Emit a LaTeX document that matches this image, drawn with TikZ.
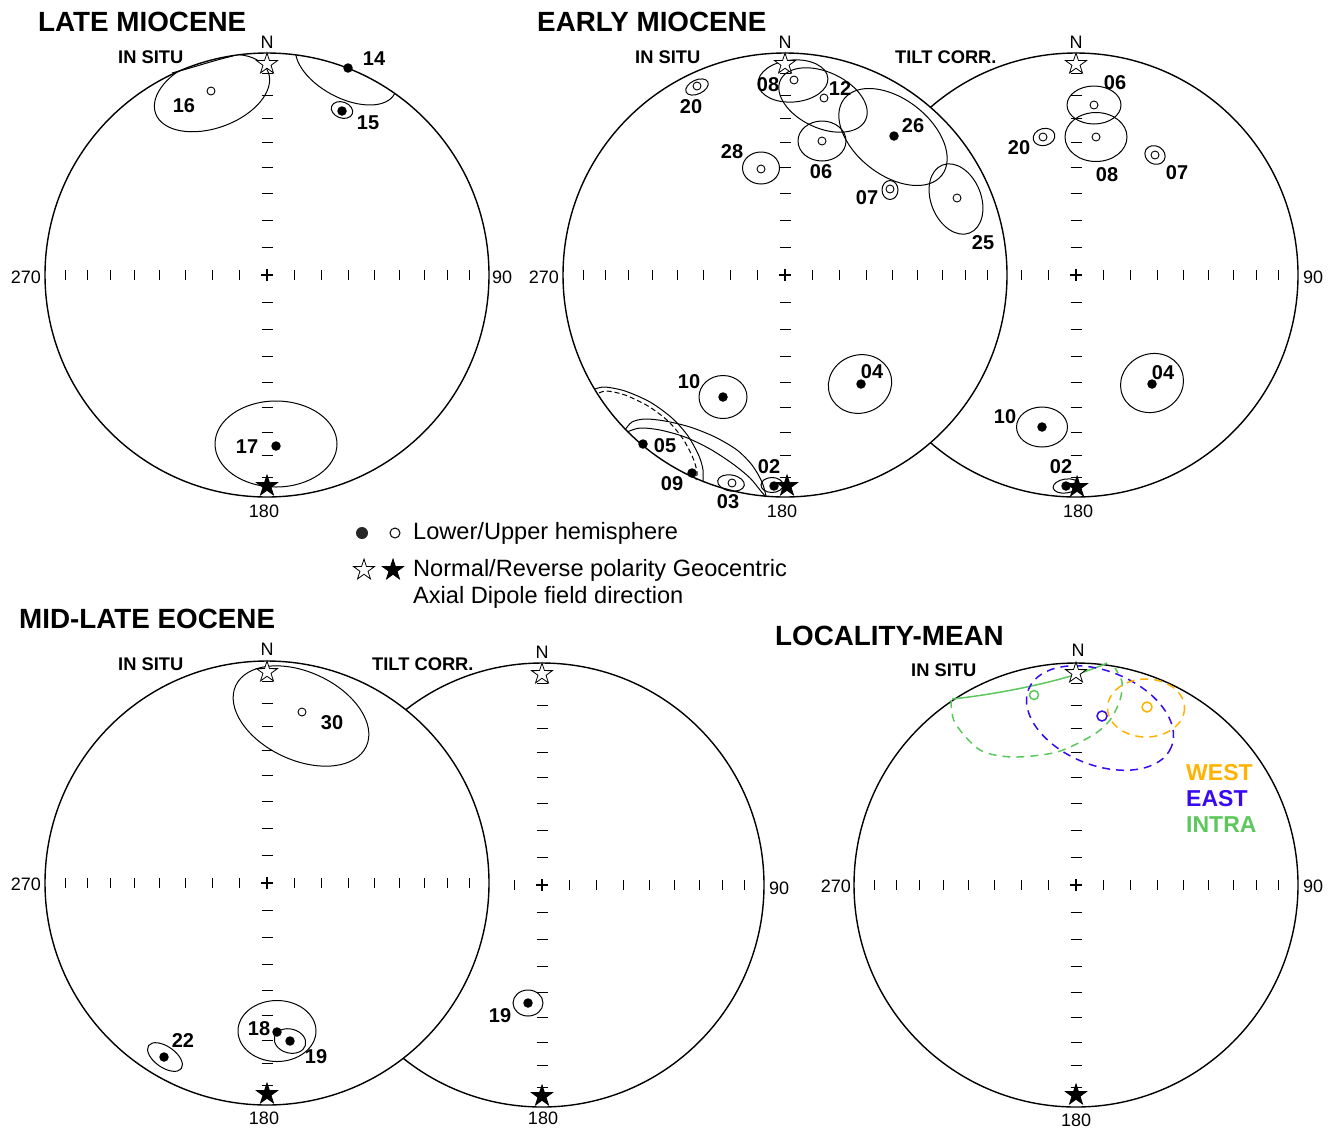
\documentclass[tikz,border=0pt]{standalone}
\usepackage{fontspec}
\setmainfont{Liberation Sans}
\usetikzlibrary{shapes.geometric}
\definecolor{cwest}{RGB}{255,178,0}
\definecolor{ceast}{RGB}{55,10,240}
\definecolor{cintra}{RGB}{92,200,92}
\tikzset{
  prim/.style={line width=1.4pt},
  tk/.style={line width=1pt},
  elp/.style={line width=1pt},
  dsh/.style={line width=1.5pt, dash pattern=on 8pt off 6pt},
  lab/.style={font=\bfseries\fontsize{20}{21}\selectfont, inner sep=0pt},
  ax/.style={font=\fontsize{18}{20}\selectfont, inner sep=0pt},
  ttl/.style={font=\bfseries\fontsize{27.8}{30}\selectfont, anchor=west, inner sep=0pt},
  sub/.style={font=\bfseries\fontsize{18.3}{20}\selectfont, anchor=west, inner sep=0pt},
  leg/.style={font=\fontsize{23.6}{26}\selectfont, anchor=west, inner sep=0pt},
  dotL/.style={circle, fill=black, inner sep=0pt, minimum size=9.5pt},
  dotU/.style={circle, draw, fill=white, inner sep=0pt, minimum size=8pt, line width=0.9pt},
  starN/.style={star, star points=5, star point ratio=2.6, draw, fill=white, inner sep=0pt, minimum size=22pt, line width=0.8pt},
  starR/.style={starN, fill=black},
}
\newcommand{\snet}[2]{%
  \draw[prim] (#1,#2) circle (222);
  \foreach \d in {27.4,54.5,81.3,107.4,132.7,157,180,202} {
    \draw[tk] (#1-5.5,#2-\d) -- (#1+5.5,#2-\d);
    \draw[tk] (#1-5.5,#2+\d) -- (#1+5.5,#2+\d);
    \draw[tk] (#1-\d,#2-5) -- (#1-\d,#2+5);
    \draw[tk] (#1+\d,#2-5) -- (#1+\d,#2+5);
  }
  \draw[line width=1.4pt] (#1-6,#2) -- (#1+6,#2) (#1,#2-6) -- (#1,#2+6);
}
\newcommand{\elps}[6][]{\draw[elp,#1,shift={(#2,#3)},rotate=#6] (0,0) ellipse (#4 and #5);}
\begin{document}
\begin{tikzpicture}[x=1pt,y=-1pt]
\useasboundingbox (0,0) rectangle (1337,1128);

% ===== LATE MIOCENE =====
\snet{267}{275}
\begin{scope}
  \clip (267,275) circle (222);
  \elps{212}{93}{60}{35}{20}
  \elps{346}{68}{55}{30}{-28}
\end{scope}
\draw[elp] (172,73) .. controls (195,67) and (215,60) .. (233,56);
\elps{342}{110}{11}{8}{-20}
\elps{276}{444}{61}{43}{0}
\node[dotU] (a16) at (211,91) {};
\node[dotL] (a14) at (348,68) {};
\node[dotL] (a15) at (342,111) {};
\node[dotL] (a17) at (276,446) {};
\node[starN] (aN) at (267,64) {};
\node[starR] (aS) at (267,486) {};
\node[lab] (la16) at (184,106) {16};
\node[lab] (la14) at (374,59) {14};
\node[lab] (la15) at (368,123) {15};
\node[lab] (la17) at (247,447) {17};

% ===== EARLY MIOCENE TILT CORR =====
\snet{1076}{275}
\elps{1094}{105}{27}{19}{0}
\elps{1096}{137}{31}{24.5}{0}
\elps{1044}{137}{11}{8.5}{15}
\elps{1155}{155}{10.5}{9}{-30}
\elps{1152}{383}{32}{29}{25}
\elps{1042}{427}{25.5}{20}{0}
\elps{1066}{486}{13}{7}{8}
\node[dotU] (c06) at (1094,105) {};
\node[dotU] (c08) at (1096,137) {};
\node[dotU] (c20) at (1043,137) {};
\node[dotU] (c07) at (1155,155) {};
\node[dotL] (c04) at (1152,384) {};
\node[dotL] (c10) at (1042,427) {};
\node[dotL] (c02) at (1066,486) {};
\node[starN] (cN) at (1076,64) {};
\node[starR] (cS) at (1077,487) {};
\node[lab] (lc06) at (1115,83) {06};
\node[lab] (lc08) at (1107,175) {08};
\node[lab] (lc20) at (1019,148) {20};
\node[lab] (lc07) at (1177,173) {07};
\node[lab] (lc04) at (1163,373) {04};
\node[lab] (lc10) at (1005,417) {10};
\node[lab] (lc02) at (1061,467) {02};

% ===== EARLY MIOCENE IN SITU =====
\fill[white] (785,275) circle (222);
\snet{785}{275}
\elps{697}{87}{12}{7}{25}
\elps{793}{81}{35}{21}{5}
\elps{823}{100}{47}{28}{-25}
\elps{822}{141}{24}{20}{0}
\elps{893}{137}{62}{38}{-38}
\elps{761}{168}{18.5}{16}{0}
\elps{890}{190}{8}{9.5}{0}
\elps{956}{199}{36.6}{25}{-68}
\elps{723}{397}{24}{21.5}{0}
\elps{860}{384}{32}{29}{20}
\elps{731}{483}{13.5}{8}{-10}
\elps{772}{485}{11}{7.5}{0}
\draw[elp] plot[smooth] coordinates {(595,389) (605,387) (625,391) (650,402) (672,418) (688,436) (699,456) (703,470) (703,482)};
\draw[elp,dash pattern=on 5pt off 3pt] plot[smooth] coordinates {(599,393) (607,391) (625,395) (648,406) (668,421) (683,439) (693,458) (697,472) (696,480)};
\draw[elp] plot[smooth] coordinates {(625,430) (632,422) (645,419) (665,421) (690,427) (715,437) (737,450) (752,465) (762,482) (766,496)};
\draw[elp] plot[smooth] coordinates {(627,432) (640,428) (660,430) (685,437) (710,449) (733,464) (750,478) (760,490) (765,496)};
\node[dotU] (b20) at (697,86) {};
\node[dotU] (b08) at (794,80) {};
\node[dotU] (b12) at (824,98) {};
\node[dotU] (b06) at (822,141) {};
\node[dotL] (b26) at (894,136) {};
\node[dotU] (b28) at (761,169) {};
\node[dotU] (b07) at (890,189) {};
\node[dotU] (b25) at (957,198) {};
\node[dotL] (b10) at (723,397) {};
\node[dotL] (b04) at (861,384) {};
\node[dotL] (b05) at (643,444) {};
\node[dotL] (b09) at (692,473) {};
\node[dotU] (b03) at (732,483) {};
\node[dotL] (b02) at (774,486) {};
\node[starN] (bN) at (785,64) {};
\node[starR] (bS) at (787,486) {};
\node[lab] (lb20) at (691,107) {20};
\node[lab] (lb08) at (768,85) {08};
\node[lab] (lb12) at (840,89) {12};
\node[lab] (lb06) at (821,172) {06};
\node[lab] (lb26) at (913,126) {26};
\node[lab] (lb28) at (732,152) {28};
\node[lab] (lb07) at (867,198) {07};
\node[lab] (lb25) at (983,243) {25};
\node[lab] (lb10) at (689,382) {10};
\node[lab] (lb04) at (872,372) {04};
\node[lab] (lb05) at (665,446) {05};
\node[lab] (lb09) at (672,484) {09};
\node[lab] (lb03) at (728,502) {03};
\node[lab] (lb02) at (769,467) {02};

% ===== EOCENE TILT CORR =====
\snet{542}{885}
\elps{528}{1003}{15}{13}{0}
\node[dotL] (e19) at (528,1003) {};
\node[starN] (eN) at (542,674) {};
\node[starR] (eS) at (542,1096) {};
\node[lab] (le19) at (500,1016) {19};

% ===== EOCENE IN SITU =====
\fill[white] (267,883) circle (222);
\snet{267}{883}
\elps{301}{716}{72}{44}{-25}
\elps{165}{1057}{20}{10.5}{-35}
\elps{277}{1031}{39}{30.5}{0}
\elps{290}{1041}{16}{12}{-15}
\node[dotU] (d30) at (302,712) {};
\node[dotL] (d22) at (164,1057) {};
\node[dotL] (d18) at (277,1032) {};
\node[dotL] (d19) at (290,1041) {};
\node[starN] (dN) at (267,672) {};
\node[starR] (dS) at (267,1094) {};
\node[lab] (ld30) at (332,723) {30};
\node[lab] (ld22) at (183,1040) {22};
\node[lab] (ld18) at (259,1029) {18};
\node[lab] (ld19) at (316,1057) {19};

% ===== LOCALITY MEAN =====
\snet{1076}{885}
\draw[cintra,line width=1.5pt] (952,699) .. controls (1000,694) and (1070,680) .. (1107,663);
\draw[cintra,dsh] plot[smooth] coordinates {(951,700) (955,723) (980,750) (1013,757) (1057,752) (1093,735) (1110,720) (1120,700) (1122,682) (1115,668)};
\elps[ceast,dsh,line width=1.5pt]{1100}{718}{77}{47}{-22}
\elps[cwest,dsh,line width=1.5pt]{1146}{708}{38.5}{29}{0}
\node[circle,draw=cintra,fill=white,line width=1.5pt,inner sep=0pt,minimum size=9pt] (fi) at (1034,695) {};
\node[circle,draw=ceast,fill=white,line width=1.5pt,inner sep=0pt,minimum size=10pt] (fe) at (1102,716) {};
\node[circle,draw=cwest,fill=white,line width=1.5pt,inner sep=0pt,minimum size=10pt] (fw) at (1147,707) {};
\node[starN] (fN) at (1076,673) {};
\node[starR] (fS) at (1076,1095) {};
\node[font=\bfseries\fontsize{23}{26}\selectfont, anchor=west, inner sep=0pt, text=cwest] (tw) at (1186,773) {WEST};
\node[font=\bfseries\fontsize{23}{26}\selectfont, anchor=west, inner sep=0pt, text=ceast] (te) at (1186,799) {EAST};
\node[font=\bfseries\fontsize{23}{26}\selectfont, anchor=west, inner sep=0pt, text=cintra] (ti) at (1186,825) {INTRA};

% ===== AXIS LABELS =====
\node[ax] (aNl) at (267,42) {N};
\node[ax] (bNl) at (785,42) {N};
\node[ax] (cNl) at (1076,42) {N};
\node[ax] (dNl) at (267,649) {N};
\node[ax] (eNl) at (542,652) {N};
\node[ax] (fNl) at (1078,650) {N};
\node[ax,anchor=east] (aW) at (41,277) {270};
\node[ax,anchor=east] (bW) at (559,277) {270};
\node[ax,anchor=east] (dW) at (41,884) {270};
\node[ax,anchor=east] (fW) at (851,886) {270};
\node[ax,anchor=west] (aE) at (492,277) {90};
\node[ax,anchor=west] (cE) at (1303,277) {90};
\node[ax,anchor=west] (eE) at (769,888) {90};
\node[ax,anchor=west] (fE) at (1303,886) {90};
\node[ax] (aSl) at (264,511) {180};
\node[ax] (bSl) at (782,511) {180};
\node[ax] (cSl) at (1078,511) {180};
\node[ax] (dSl) at (264,1118) {180};
\node[ax] (eSl) at (543,1118) {180};
\node[ax] (fSl) at (1076,1120) {180};

% ===== TITLES =====
\node[ttl] (t1) at (38,22) {LATE MIOCENE};
\node[ttl] (t2) at (537,22) {EARLY MIOCENE};
\node[ttl] (t3) at (19,619) {MID-LATE EOCENE};
\node[ttl] (t4) at (775,636) {LOCALITY-MEAN};
\node[sub] (s1) at (118,57) {IN SITU};
\node[sub] (s2) at (635,57) {IN SITU};
\node[sub] (s3) at (895,57) {TILT CORR.};
\node[sub] (s4) at (118,664) {IN SITU};
\node[sub] (s5) at (372,664) {TILT CORR.};
\node[sub] (s6) at (911,670) {IN SITU};

% ===== LEGEND =====
\node[circle,fill=black!85,inner sep=0pt,minimum size=12pt] (g1) at (362,533) {};
\node[circle,draw,line width=1pt,inner sep=0pt,minimum size=10pt] (g2) at (395,533) {};
\node[leg] (g3) at (413,533) {Lower/Upper hemisphere};
\node[starN] (g4) at (364,570) {};
\node[starR] (g5) at (393,570) {};
\node[leg] (g6) at (413,570) {Normal/Reverse polarity Geocentric};
\node[leg] (g7) at (413,597) {Axial Dipole field direction};
\end{tikzpicture}
\end{document}
